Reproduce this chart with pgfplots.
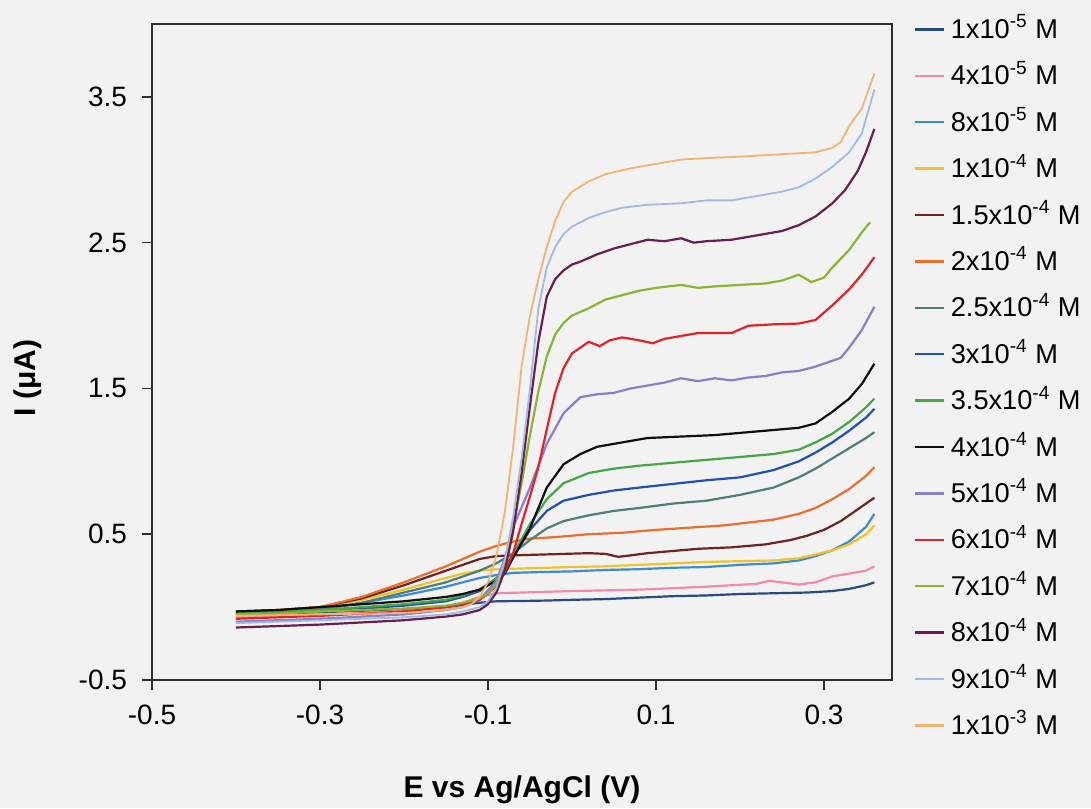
\documentclass[border=0pt]{standalone}
\usepackage{pgfplots}
\pgfplotsset{compat=1.18}
\usepackage{fontspec}
\setmainfont{Liberation Sans}
\definecolor{bgc}{RGB}{242,242,243}
\definecolor{axc}{RGB}{45,45,45}
\definecolor{sa}{RGB}{40,75,130}
\definecolor{sb}{RGB}{240,140,170}
\definecolor{sc}{RGB}{60,140,210}
\definecolor{sd}{RGB}{240,195,40}
\definecolor{se}{RGB}{110,35,30}
\definecolor{sf}{RGB}{235,110,45}
\definecolor{sg}{RGB}{80,125,120}
\definecolor{sh}{RGB}{35,80,175}
\definecolor{si}{RGB}{70,165,70}
\definecolor{sj}{RGB}{15,15,15}
\definecolor{sk}{RGB}{140,125,200}
\definecolor{sl}{RGB}{225,35,40}
\definecolor{sm}{RGB}{140,180,50}
\definecolor{sn}{RGB}{105,30,75}
\definecolor{so}{RGB}{160,185,230}
\definecolor{sp}{RGB}{242,180,115}
\begin{document}
\begin{tikzpicture}
\path[fill=bgc, use as bounding box] (-76pt,-64pt) rectangle (469.5pt,340pt);
\begin{axis}[
  at={(0pt,0pt)}, anchor=south west,
  scale only axis, width=370pt, height=328pt,
  xmin=-0.5, xmax=0.381, ymin=-0.5, ymax=4.0,
  xtick={-0.5,-0.3,-0.1,0.1,0.3}, xticklabels={-0.5,-0.3,-0.1,0.1,0.3},
  ytick={-0.5,0.5,1.5,2.5,3.5}, yticklabels={-0.5,0.5,1.5,2.5,3.5},
  tick align=outside, tick pos=left, major tick length=5pt,
  axis line style={draw=axc, line width=1pt},
  tick style={draw=axc, line width=0.8pt},
  ticklabel style={font=\fontsize{14}{16}\selectfont},
  xticklabel style={yshift=-4pt},
  yticklabel style={xshift=-4pt},
  xlabel={E vs Ag/AgCl (V)}, ylabel={I (μA)},
  label style={font=\bfseries\fontsize{15}{18}\selectfont},
  xlabel style={at={(axis description cs:0.5,-0.168)}, anchor=center},
  ylabel style={at={(axis description cs:-0.168,0.46)}, anchor=center},
  legend style={at={(axis description cs:1,1)}, anchor=north west, xshift=10.5pt, yshift=3pt,
    draw=none, fill=none, inner sep=0pt, row sep=12.2pt, column sep=3pt,
    font=\fontsize{13.6}{15}\selectfont,
    nodes={inner sep=0pt, text height=10pt, text depth=1pt}},
  legend cell align=left,
  legend image code/.code={\draw[#1, line width=1.2pt] (0pt,0pt) -- (14.5pt,0pt);},
  every axis plot/.append style={line width=1.1pt, mark=none},
]
\addplot[sa] coordinates {(-0.40,-0.05)(-0.35,-0.045)(-0.30,-0.035)(-0.25,-0.025)(-0.20,-0.015)(-0.15,0.0)(-0.13,0.015)(-0.11,0.03)(-0.09,0.04)(-0.06,0.042)(-0.03,0.045)(0.0,0.05)(0.04,0.055)(0.08,0.065)(0.12,0.075)(0.16,0.08)(0.20,0.09)(0.24,0.095)(0.28,0.10)(0.31,0.11)(0.33,0.125)(0.35,0.15)(0.36,0.17)};
\addlegendentry{1x10\textsuperscript{-5} M}
\addplot[sb] coordinates {(-0.40,-0.07)(-0.35,-0.065)(-0.30,-0.05)(-0.25,-0.04)(-0.20,-0.025)(-0.15,0.0)(-0.13,0.03)(-0.11,0.07)(-0.09,0.095)(-0.06,0.10)(-0.03,0.105)(0.0,0.11)(0.04,0.115)(0.08,0.12)(0.12,0.13)(0.16,0.14)(0.19,0.15)(0.22,0.16)(0.235,0.18)(0.25,0.17)(0.27,0.155)(0.29,0.17)(0.31,0.21)(0.33,0.23)(0.35,0.25)(0.36,0.28)};
\addlegendentry{4x10\textsuperscript{-5} M}
\addplot[sc] coordinates {(-0.40,-0.04)(-0.35,-0.03)(-0.30,-0.01)(-0.25,0.03)(-0.20,0.08)(-0.15,0.14)(-0.13,0.17)(-0.11,0.20)(-0.09,0.22)(-0.07,0.235)(-0.04,0.24)(0.0,0.245)(0.04,0.255)(0.08,0.26)(0.12,0.27)(0.16,0.275)(0.20,0.29)(0.24,0.30)(0.27,0.32)(0.29,0.35)(0.31,0.39)(0.33,0.45)(0.35,0.55)(0.36,0.64)};
\addlegendentry{8x10\textsuperscript{-5} M}
\addplot[sd] coordinates {(-0.40,-0.03)(-0.35,-0.02)(-0.30,0.0)(-0.25,0.05)(-0.20,0.12)(-0.15,0.20)(-0.13,0.23)(-0.11,0.25)(-0.09,0.26)(-0.06,0.265)(-0.03,0.27)(0.0,0.275)(0.04,0.28)(0.08,0.29)(0.12,0.30)(0.16,0.31)(0.20,0.315)(0.24,0.32)(0.27,0.335)(0.29,0.36)(0.31,0.39)(0.33,0.43)(0.35,0.50)(0.36,0.56)};
\addlegendentry{1x10\textsuperscript{-4} M}
\addplot[se] coordinates {(-0.40,-0.03)(-0.35,-0.02)(-0.30,0.0)(-0.25,0.06)(-0.20,0.15)(-0.15,0.25)(-0.13,0.29)(-0.11,0.33)(-0.09,0.35)(-0.07,0.355)(-0.04,0.36)(-0.01,0.365)(0.02,0.37)(0.04,0.365)(0.055,0.345)(0.07,0.355)(0.09,0.37)(0.12,0.385)(0.15,0.40)(0.19,0.41)(0.23,0.43)(0.26,0.46)(0.28,0.49)(0.30,0.53)(0.32,0.59)(0.34,0.67)(0.36,0.75)};
\addlegendentry{1.5x10\textsuperscript{-4} M}
\addplot[sf] coordinates {(-0.40,-0.04)(-0.35,-0.025)(-0.30,0.0)(-0.25,0.07)(-0.20,0.17)(-0.15,0.28)(-0.13,0.33)(-0.11,0.38)(-0.09,0.42)(-0.07,0.45)(-0.05,0.47)(-0.02,0.48)(0.02,0.50)(0.06,0.51)(0.10,0.53)(0.14,0.545)(0.18,0.56)(0.21,0.58)(0.24,0.60)(0.27,0.64)(0.29,0.68)(0.31,0.74)(0.33,0.81)(0.35,0.90)(0.36,0.96)};
\addlegendentry{2x10\textsuperscript{-4} M}
\addplot[sg] coordinates {(-0.40,-0.05)(-0.35,-0.04)(-0.30,-0.02)(-0.25,0.03)(-0.20,0.10)(-0.15,0.17)(-0.13,0.21)(-0.11,0.25)(-0.09,0.30)(-0.07,0.37)(-0.05,0.46)(-0.03,0.54)(-0.01,0.59)(0.02,0.63)(0.05,0.66)(0.08,0.68)(0.12,0.71)(0.16,0.73)(0.20,0.77)(0.24,0.82)(0.27,0.89)(0.29,0.95)(0.31,1.02)(0.33,1.09)(0.35,1.16)(0.36,1.20)};
\addlegendentry{2.5x10\textsuperscript{-4} M}
\addplot[sh] coordinates {(-0.40,-0.05)(-0.35,-0.045)(-0.30,-0.03)(-0.25,-0.01)(-0.20,0.01)(-0.15,0.04)(-0.13,0.07)(-0.11,0.11)(-0.09,0.19)(-0.07,0.34)(-0.05,0.53)(-0.03,0.66)(-0.01,0.73)(0.02,0.77)(0.05,0.80)(0.08,0.82)(0.12,0.845)(0.16,0.87)(0.20,0.89)(0.24,0.94)(0.27,1.00)(0.29,1.06)(0.31,1.13)(0.33,1.21)(0.35,1.30)(0.36,1.36)};
\addlegendentry{3x10\textsuperscript{-4} M}
\addplot[si] coordinates {(-0.40,-0.04)(-0.35,-0.035)(-0.30,-0.02)(-0.25,0.0)(-0.20,0.02)(-0.15,0.05)(-0.13,0.08)(-0.11,0.12)(-0.09,0.20)(-0.07,0.36)(-0.05,0.57)(-0.03,0.74)(-0.01,0.85)(0.02,0.92)(0.05,0.95)(0.08,0.97)(0.12,0.99)(0.16,1.01)(0.20,1.03)(0.24,1.05)(0.27,1.08)(0.29,1.13)(0.31,1.19)(0.33,1.27)(0.35,1.37)(0.36,1.43)};
\addlegendentry{3.5x10\textsuperscript{-4} M}
\addplot[sj] coordinates {(-0.40,-0.03)(-0.35,-0.02)(-0.30,0.0)(-0.25,0.02)(-0.20,0.04)(-0.15,0.07)(-0.13,0.09)(-0.11,0.12)(-0.09,0.18)(-0.08,0.23)(-0.07,0.34)(-0.05,0.54)(-0.03,0.82)(-0.01,0.98)(0.01,1.05)(0.03,1.10)(0.06,1.13)(0.09,1.16)(0.13,1.17)(0.17,1.18)(0.21,1.20)(0.25,1.22)(0.27,1.23)(0.29,1.26)(0.31,1.34)(0.33,1.43)(0.345,1.53)(0.36,1.67)};
\addlegendentry{4x10\textsuperscript{-4} M}
\addplot[sk] coordinates {(-0.40,-0.10)(-0.35,-0.09)(-0.30,-0.08)(-0.25,-0.065)(-0.20,-0.05)(-0.15,-0.02)(-0.13,0.0)(-0.11,0.05)(-0.09,0.18)(-0.08,0.33)(-0.07,0.55)(-0.05,0.82)(-0.03,1.12)(-0.01,1.33)(0.01,1.44)(0.03,1.46)(0.05,1.47)(0.07,1.50)(0.09,1.52)(0.11,1.54)(0.13,1.57)(0.15,1.55)(0.17,1.57)(0.19,1.555)(0.21,1.575)(0.23,1.585)(0.25,1.61)(0.27,1.62)(0.29,1.65)(0.31,1.69)(0.32,1.71)(0.33,1.78)(0.345,1.90)(0.36,2.06)};
\addlegendentry{5x10\textsuperscript{-4} M}
\addplot[sl] coordinates {(-0.40,-0.08)(-0.35,-0.07)(-0.30,-0.06)(-0.25,-0.045)(-0.20,-0.03)(-0.15,0.0)(-0.13,0.02)(-0.11,0.05)(-0.10,0.09)(-0.09,0.15)(-0.08,0.24)(-0.07,0.37)(-0.06,0.57)(-0.05,0.76)(-0.04,0.96)(-0.03,1.22)(-0.02,1.47)(-0.01,1.64)(0.0,1.74)(0.02,1.82)(0.033,1.79)(0.045,1.83)(0.06,1.85)(0.08,1.83)(0.096,1.81)(0.11,1.84)(0.13,1.86)(0.15,1.88)(0.19,1.88)(0.21,1.93)(0.24,1.94)(0.27,1.945)(0.29,1.97)(0.31,2.07)(0.33,2.18)(0.345,2.28)(0.36,2.40)};
\addlegendentry{6x10\textsuperscript{-4} M}
\addplot[sm] coordinates {(-0.40,-0.05)(-0.35,-0.045)(-0.30,-0.03)(-0.25,-0.02)(-0.20,-0.01)(-0.15,0.01)(-0.13,0.03)(-0.11,0.06)(-0.10,0.09)(-0.09,0.16)(-0.08,0.30)(-0.07,0.55)(-0.06,0.85)(-0.05,1.18)(-0.04,1.48)(-0.03,1.72)(-0.02,1.87)(-0.01,1.95)(0.0,2.00)(0.02,2.05)(0.04,2.11)(0.06,2.14)(0.08,2.17)(0.10,2.19)(0.13,2.21)(0.15,2.19)(0.17,2.20)(0.20,2.21)(0.23,2.22)(0.25,2.24)(0.27,2.28)(0.285,2.23)(0.30,2.26)(0.31,2.33)(0.33,2.45)(0.345,2.57)(0.355,2.64)};
\addlegendentry{7x10\textsuperscript{-4} M}
\addplot[sn] coordinates {(-0.40,-0.14)(-0.35,-0.13)(-0.30,-0.12)(-0.25,-0.105)(-0.20,-0.09)(-0.15,-0.065)(-0.13,-0.05)(-0.11,-0.02)(-0.10,0.02)(-0.09,0.10)(-0.08,0.25)(-0.07,0.52)(-0.06,0.92)(-0.05,1.38)(-0.04,1.82)(-0.03,2.13)(-0.02,2.25)(-0.01,2.31)(0.0,2.35)(0.01,2.37)(0.03,2.42)(0.05,2.46)(0.07,2.49)(0.09,2.52)(0.11,2.51)(0.13,2.53)(0.145,2.50)(0.16,2.51)(0.19,2.52)(0.22,2.55)(0.25,2.58)(0.27,2.62)(0.29,2.68)(0.31,2.77)(0.325,2.86)(0.34,2.99)(0.35,3.12)(0.36,3.28)};
\addlegendentry{8x10\textsuperscript{-4} M}
\addplot[so, line width=0.9pt] coordinates {(-0.40,-0.11)(-0.35,-0.10)(-0.30,-0.09)(-0.25,-0.08)(-0.20,-0.07)(-0.15,-0.05)(-0.13,-0.03)(-0.11,0.0)(-0.10,0.04)(-0.09,0.13)(-0.08,0.32)(-0.07,0.62)(-0.06,1.02)(-0.05,1.50)(-0.04,2.05)(-0.03,2.33)(-0.02,2.47)(-0.01,2.56)(0.0,2.61)(0.02,2.67)(0.04,2.71)(0.06,2.74)(0.09,2.76)(0.13,2.77)(0.16,2.79)(0.19,2.79)(0.22,2.82)(0.25,2.85)(0.27,2.88)(0.29,2.94)(0.31,3.02)(0.33,3.12)(0.345,3.25)(0.36,3.55)};
\addlegendentry{9x10\textsuperscript{-4} M}
\addplot[sp, line width=0.9pt] coordinates {(-0.40,-0.06)(-0.35,-0.055)(-0.30,-0.05)(-0.25,-0.045)(-0.20,-0.04)(-0.15,-0.02)(-0.13,0.0)(-0.12,0.02)(-0.11,0.07)(-0.10,0.17)(-0.09,0.35)(-0.08,0.65)(-0.07,1.10)(-0.06,1.65)(-0.05,2.00)(-0.04,2.25)(-0.03,2.47)(-0.02,2.65)(-0.01,2.78)(0.0,2.85)(0.02,2.92)(0.04,2.97)(0.07,3.01)(0.10,3.04)(0.13,3.07)(0.16,3.08)(0.20,3.09)(0.23,3.10)(0.26,3.11)(0.29,3.12)(0.31,3.15)(0.32,3.19)(0.33,3.30)(0.345,3.42)(0.36,3.66)};
\addlegendentry{1x10\textsuperscript{-3} M}
\end{axis}
\end{tikzpicture}
\end{document}
